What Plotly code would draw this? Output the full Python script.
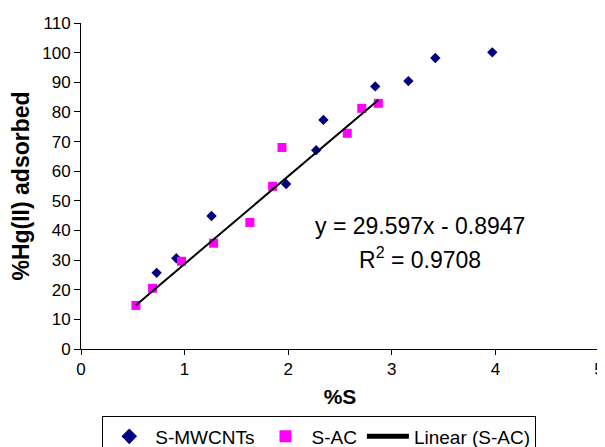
import numpy as np
import plotly.graph_objects as go

# S-MWCNTs series
mwcnt_s = [0.73, 0.92, 1.26, 1.98, 2.27, 2.34, 2.84, 3.16, 3.42, 3.97]
mwcnt_hg = [25.7, 30.6, 44.9, 55.7, 67.1, 77.3, 88.6, 90.4, 98.2, 100.1]

# S-AC series
ac_s = [0.53, 0.69, 0.97, 1.28, 1.63, 1.85, 1.94, 2.57, 2.71, 2.87]
ac_hg = [14.7, 20.5, 29.6, 35.7, 42.7, 54.9, 68.0, 72.8, 81.2, 82.9]

# Linear trendline (S-AC)
trend_slope = 29.597
trend_intercept = -0.8947
trend_r2 = 0.9708

x_ticks = [0, 1, 2, 3, 4, 5]
y_ticks = [0, 10, 20, 30, 40, 50, 60, 70, 80, 90, 100, 110]

FONT = "Arial, 'Liberation Sans', sans-serif"

tx = np.array([min(ac_s), max(ac_s)])
ty = trend_slope * tx + trend_intercept

fig = go.Figure()
fig.add_trace(go.Scatter(
    x=mwcnt_s, y=mwcnt_hg, mode="markers", name="S-MWCNTs",
    marker=dict(symbol="diamond", size=8, color="#000080"),
    cliponaxis=False,
))
fig.add_trace(go.Scatter(
    x=ac_s, y=ac_hg, mode="markers", name="S-AC",
    marker=dict(symbol="square", size=9, color="#FF00FF"),
    cliponaxis=False,
))
fig.add_trace(go.Scatter(
    x=tx, y=ty, mode="lines", name="Linear (S-AC)",
    line=dict(color="black", width=2),
))

fig.add_annotation(x=3.27, y=41.5, xref="x", yref="y",
                   text=f"y = {trend_slope}x - {abs(trend_intercept)}",
                   showarrow=False, font=dict(family=FONT, size=23, color="black"))
fig.add_annotation(x=3.27, y=30.6, xref="x", yref="y",
                   text=f"R<sup>2</sup> = {trend_r2}",
                   showarrow=False, font=dict(family=FONT, size=23, color="black"))

# page body adds an 8px offset, so the figure is 597x439 with shifted margins
fig.update_layout(
    width=597, height=439,
    margin=dict(l=73, r=6, t=15, b=98, autoexpand=False),
    paper_bgcolor="white", plot_bgcolor="white",
    font=dict(family=FONT, size=17, color="black"),
    showlegend=True,
    legend=dict(
        orientation="h", x=0.46, xanchor="center", y=-0.207, yanchor="top",
        bordercolor="black", borderwidth=1, bgcolor="white",
        font=dict(family=FONT, size=19, color="black"),
        itemsizing="constant", tracegroupgap=0, itemwidth=42,
    ),
)
fig.update_xaxes(
    range=[0, 5], tickvals=x_ticks, ticktext=[str(v) for v in x_ticks],
    showline=True, linecolor="black", linewidth=1,
    ticks="outside", ticklen=5, tickcolor="black",
    showgrid=False, zeroline=False, automargin=False,
    title=dict(text="<b>%S</b>", font=dict(family=FONT, size=21), standoff=10),
)
fig.update_yaxes(
    range=[0, 110], tickvals=y_ticks, ticktext=[str(v) for v in y_ticks],
    showline=True, linecolor="black", linewidth=1,
    ticks="outside", ticklen=6, tickcolor="black",
    showgrid=False, zeroline=False, automargin=False,
    title=dict(text="<b>%Hg(II) adsorbed</b>", font=dict(family=FONT, size=23), standoff=7),
)

fig.write_html("out.html")
